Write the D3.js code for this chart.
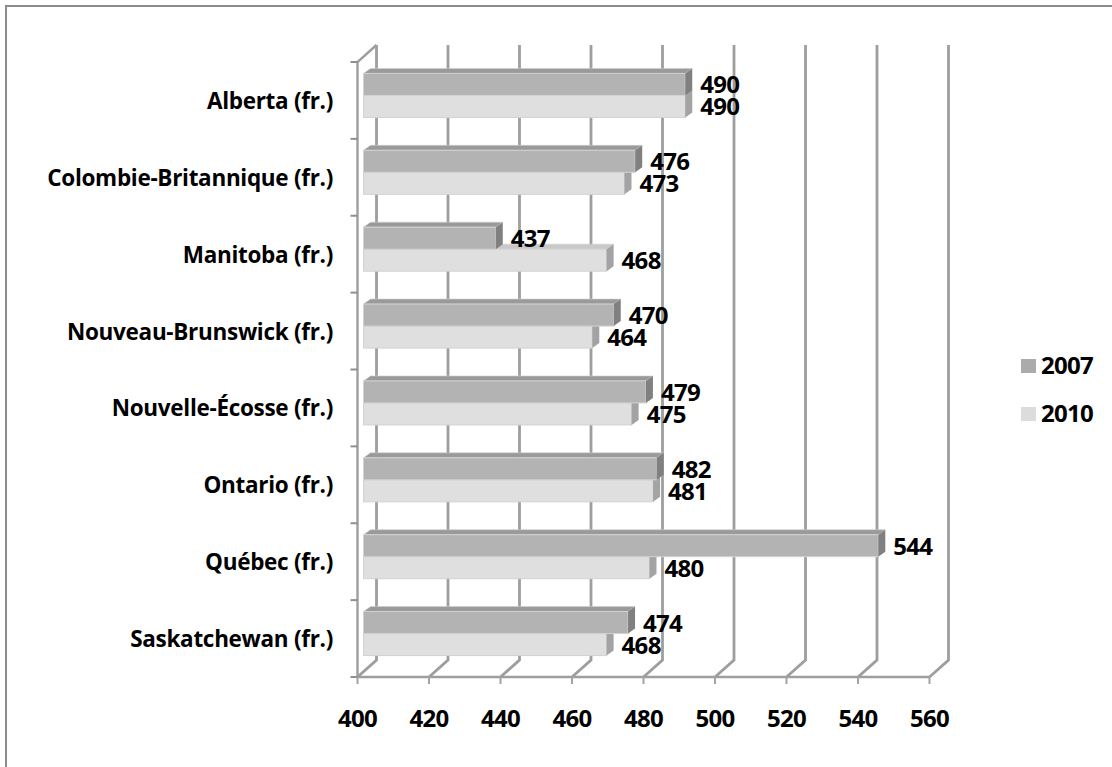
<!DOCTYPE html>
<html>
<head>
<meta charset="utf-8">
<script src="https://cdn.jsdelivr.net/npm/d3@7"></script>
<style>
  html, body { margin: 0; padding: 0; background: #ffffff; }
  svg { display: block; }
  text { font-family: "Open Sans", Lato, "Liberation Sans", sans-serif; font-weight: bold; fill: #000; }
</style>
</head>
<body>
<svg id="chart" width="1112" height="767"></svg>
<script>
// Scores by province (French-language school systems), 2007 vs 2010
const categories = [
  "Alberta (fr.)",
  "Colombie-Britannique (fr.)",
  "Manitoba (fr.)",
  "Nouveau-Brunswick (fr.)",
  "Nouvelle-Écosse (fr.)",
  "Ontario (fr.)",
  "Québec (fr.)",
  "Saskatchewan (fr.)"
];
const seriesNames = ["2007", "2010"];
const values2007 = [490, 476, 437, 470, 479, 482, 544, 474];
const values2010 = [490, 473, 468, 464, 475, 481, 480, 468];
const xTicks = [400, 420, 440, 460, 480, 500, 520, 540, 560];

const seriesValues = { "2007": values2007, "2010": values2010 };
const palette = {
  "2007": { front: "#b3b3b3", top: "#9a9a9a", side: "#808080", legend: "#ababab" },
  "2010": { front: "#dfdfdf", top: "#c9c9c9", side: "#a3a3a3", legend: "#dcdcdc" }
};

const svg = d3.select("#chart");

// Oblique 3D projection: the back wall sits up and to the right of the front plane
const wallDepth = { dx: 19, dy: -17 };
const barDepth = { dx: 7, dy: -5 };
const barInset = 6;

const x = d3.scaleLinear().domain([400, 560]).range([357.5, 929.5]);
const y = d3.scaleBand().domain(categories).range([62, 677]);
const ySeries = d3.scaleBand().domain(seriesNames).range([0, 44]);

// Chart frame
svg.append("rect")
  .attr("x", 6).attr("y", 6)
  .attr("width", 1200).attr("height", 900)
  .attr("fill", "none").attr("stroke", "#8c8c8c").attr("stroke-width", 2);

const grid = svg.append("g").attr("stroke", "#9e9e9e").attr("fill", "none");
const [y0, y1] = y.range();

// Back wall gridlines and floor diagonals
xTicks.forEach(t => {
  const fx = x(t);
  grid.append("path")
    .attr("stroke-width", 2.8)
    .attr("d", `M${fx},${y1} L${fx + wallDepth.dx},${y1 + wallDepth.dy} L${fx + wallDepth.dx},${y0 + wallDepth.dy}`);
});

// Side wall top edge and left axis
grid.append("path")
  .attr("stroke-width", 2.4)
  .attr("d", `M${x(400) + wallDepth.dx},${y0 + wallDepth.dy} L${x(400)},${y0} L${x(400)},${y1} L${x(560)},${y1}`);

// Category tick marks
categories.concat([null]).forEach(c => {
  const ty = c === null ? y1 : y(c);
  grid.append("line")
    .attr("stroke-width", 2).attr("stroke", "#8f8f8f")
    .attr("x1", x(400) - 7).attr("x2", x(400))
    .attr("y1", ty).attr("y2", ty);
});

// Value axis tick marks
xTicks.forEach(t => {
  grid.append("line")
    .attr("stroke-width", 2).attr("stroke", "#a3a3a3")
    .attr("x1", x(t)).attr("x2", x(t))
    .attr("y1", y1).attr("y2", y1 + 7);
});

// Bars: 2010 first so that the 2007 bar above it overlaps its top face
const bars = svg.append("g");
function drawBar(cat, s, v) {
  const groupTop = y(cat) + y.bandwidth() / 2 - ySeries.range()[1] / 2 - 5;
  const by = groupTop + ySeries(s);
  const bh = ySeries.bandwidth();
  const bx0 = x(400) + barInset;
  const bx1 = x(v) + barInset;
  const c = palette[s];
  const d = barDepth;
  bars.append("path").attr("fill", c.top).attr("stroke", "#cfcfcf").attr("stroke-width", 0.6)
    .attr("d", `M${bx0},${by} L${bx0 + d.dx},${by + d.dy} L${bx1 + d.dx},${by + d.dy} L${bx1},${by} Z`);
  bars.append("rect").attr("fill", c.front).attr("stroke", "#d2d2d2").attr("stroke-width", 1)
    .attr("x", bx0).attr("y", by).attr("width", bx1 - bx0).attr("height", bh);
  bars.append("path").attr("fill", c.side)
    .attr("d", `M${bx1},${by} L${bx1 + d.dx},${by + d.dy} L${bx1 + d.dx},${by + bh + d.dy} L${bx1},${by + bh} Z`);
  return { end: bx1, mid: by + bh / 2 };
}

const labels = [];
["2010", "2007"].forEach(s => {
  categories.forEach((cat, i) => {
    const v = seriesValues[s][i];
    const b = drawBar(cat, s, v);
    labels.push({ x: b.end + 15, y: b.mid + 9, text: v });
  });
});

// Data labels
svg.append("g").selectAll("text").data(labels).join("text")
  .attr("x", d => d.x).attr("y", d => d.y)
  .attr("font-size", 24)
  .attr("letter-spacing", -0.7)
  .text(d => d.text);

// Category labels
svg.append("g").selectAll("text").data(categories).join("text")
  .attr("x", 333)
  .attr("y", d => y(d) + y.bandwidth() / 2 + 8.5)
  .attr("text-anchor", "end")
  .attr("font-size", 22.5)
  .attr("letter-spacing", -0.3)
  .text(d => d);

// Value axis labels
svg.append("g").selectAll("text").data(xTicks).join("text")
  .attr("x", d => x(d))
  .attr("y", 727)
  .attr("text-anchor", "middle")
  .attr("font-size", 24)
  .attr("letter-spacing", -0.7)
  .text(d => d);

// Legend
const legend = svg.append("g");
seriesNames.forEach((s, i) => {
  const ly = 359 + i * 48;
  legend.append("rect")
    .attr("x", 1021).attr("y", ly).attr("width", 15).attr("height", 14)
    .attr("fill", palette[s].legend);
  legend.append("text")
    .attr("x", 1041).attr("y", ly + 15)
    .attr("font-size", 24)
    .attr("letter-spacing", -0.7)
    .text(s);
});
</script>
</body>
</html>
